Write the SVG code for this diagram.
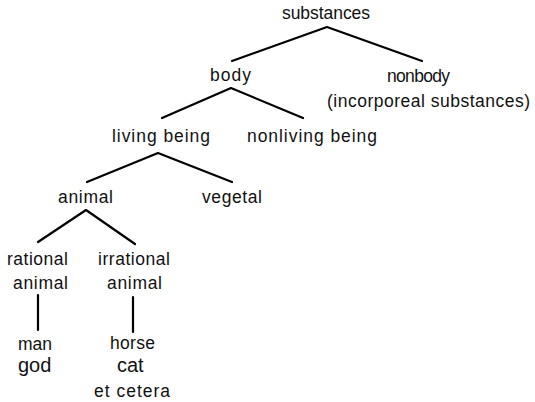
<svg xmlns="http://www.w3.org/2000/svg" width="535" height="402" viewBox="0 0 535 402">
<style>
text{font-family:"Liberation Sans",Arial,sans-serif;font-size:17.5px;fill:#111;}
.big{font-size:20px;}
.e{fill:none;stroke:#000;stroke-width:2.2;stroke-linecap:round;stroke-linejoin:round;}
</style>
<rect width="535" height="402" fill="#fff"/>
<g id="connectors">
<polyline class="e" points="232,61 327,27 422,61"/>
<polyline class="e" points="162,118 231,88 303,118"/>
<polyline class="e" points="87,182 158,153 232,182"/>
<polyline class="e" points="38,242 86,210 135,244"/>
<line class="e" x1="38" y1="295" x2="38" y2="330"/>
<line class="e" x1="133" y1="297" x2="133" y2="332"/>
</g>
<g id="substances"><text x="282" y="19" textLength="88" lengthAdjust="spacing">substances</text></g>
<g id="body"><text x="210" y="81" textLength="41" lengthAdjust="spacing">body</text></g>
<g id="nonbody"><text x="387" y="82" textLength="63" lengthAdjust="spacing">nonbody</text><text x="327" y="107" textLength="203" lengthAdjust="spacing">(incorporeal substances)</text></g>
<g id="living"><text x="112" y="142" textLength="98" lengthAdjust="spacing">living being</text></g>
<g id="nonliving"><text x="247" y="142" textLength="130" lengthAdjust="spacing">nonliving being</text></g>
<g id="animal"><text x="58" y="203" textLength="55" lengthAdjust="spacing">animal</text></g>
<g id="vegetal"><text x="202" y="203" textLength="60" lengthAdjust="spacing">vegetal</text></g>
<g id="rational"><text x="7" y="265" textLength="61" lengthAdjust="spacing">rational</text><text x="13" y="289" textLength="55" lengthAdjust="spacing">animal</text></g>
<g id="irrational"><text x="98" y="265" textLength="72" lengthAdjust="spacing">irrational</text><text x="107" y="289" textLength="55" lengthAdjust="spacing">animal</text></g>
<g id="mangod"><text x="18" y="350" textLength="34" lengthAdjust="spacing">man</text><text class="big" x="18" y="372">god</text></g>
<g id="horsecat"><text x="110" y="349" textLength="45" lengthAdjust="spacing">horse</text><text class="big" x="117" y="372">cat</text><text x="94" y="397" textLength="76" lengthAdjust="spacing">et cetera</text></g>
</svg>
